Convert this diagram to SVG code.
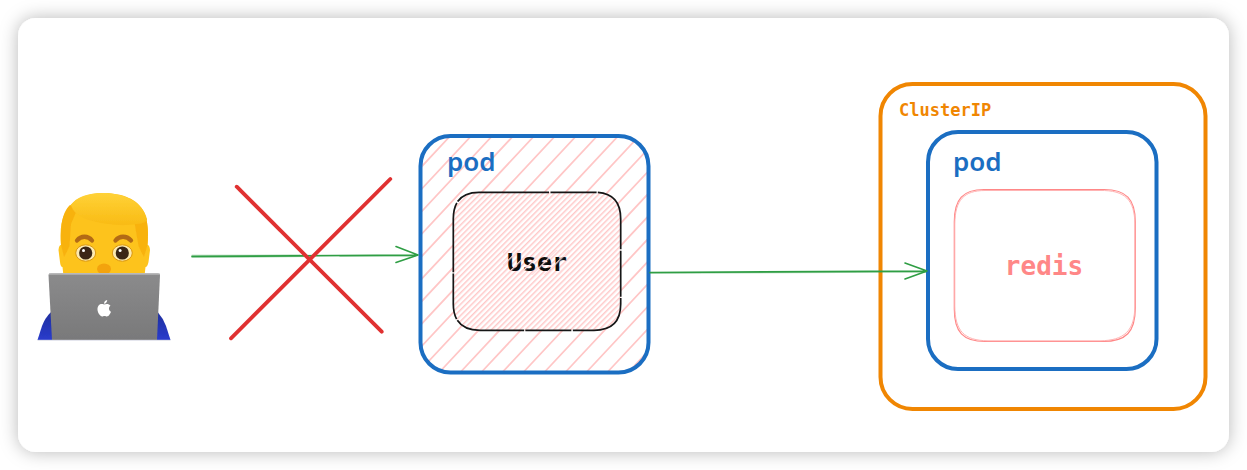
<svg xmlns="http://www.w3.org/2000/svg" width="1247" height="470" viewBox="0 0 1247 470">
<style>
.box{fill:none;stroke-linejoin:round}
.blue{stroke:#1b6ec2;stroke-width:4}
.orange{stroke:#f08602;stroke-width:4}
.mono{font-family:"DejaVu Sans Mono","Liberation Mono",monospace;font-weight:700}
.pod{font-family:"Noto Sans","Open Sans",sans-serif;font-weight:600;font-size:26px;fill:#1b6ec2}
.conn{fill:none;stroke:#2f9e44;stroke-linecap:round;stroke-linejoin:round;stroke-width:1.600}
.halo{fill:none;stroke:#2f9e44;stroke-opacity:.45;stroke-linecap:round;stroke-width:1.300}
.cross{fill:none;stroke:#e03131;stroke-width:3.800;stroke-linecap:round}
</style>
<defs>
<filter id="sh" x="-5%" y="-15%" width="110%" height="130%"><feDropShadow dx="0" dy="0" stdDeviation="9" flood-color="#000" flood-opacity="0.28"/></filter>
<filter id="soft" x="-5%" y="-5%" width="110%" height="110%"><feGaussianBlur stdDeviation="0.450"/></filter>
<clipPath id="podclip"><rect x="420.500" y="136" width="228" height="236.500" rx="30"/></clipPath>
<pattern id="dense" width="4" height="4" patternUnits="userSpaceOnUse" patternTransform="rotate(-45)"><rect width="4" height="1.500" fill="#ffc9c9"/></pattern>
<pattern id="chip" width="9" height="9" patternUnits="userSpaceOnUse" patternTransform="translate(505 250) rotate(-45)"><rect width="9" height="1.300" fill="#ffdcdc"/></pattern>
<linearGradient id="lap" x1="0" y1="0" x2="0" y2="1"><stop offset="0" stop-color="#8b8b8c"/><stop offset="1" stop-color="#79797a"/></linearGradient>
<linearGradient id="hair" x1="0" y1="0" x2="0" y2="1"><stop offset="0" stop-color="#ffd238"/><stop offset="1" stop-color="#f9bb14"/></linearGradient>
<linearGradient id="sleeve" x1="0" y1="0" x2="0" y2="1"><stop offset="0" stop-color="#1f2f9f"/><stop offset="1" stop-color="#2a3ccc"/></linearGradient>
</defs>
<rect id="canvas-bg" width="1247" height="470" fill="#fff"/>
<rect id="card" x="18" y="18" width="1211" height="434" rx="18" fill="#fff" filter="url(#sh)"/>

<g id="user-emoji">
<g filter="url(#soft)">
<path d="M37.500 340L42 326Q45 318 50.500 312.500L158 312.500Q163 318 166 326L170.500 340Z" fill="url(#sleeve)"/>
<path d="M58.500 250Q59 245 61 245C60 232 60.500 222 65 213C72 199 86 193 103 193C122 193 138 199 144 212C148 222 148.500 232 147.500 245Q149.500 245 150 250L148.500 262Q147.500 267 145.500 267L144.500 276H63.500L62.500 267Q60.500 267 60 262Z" fill="#fdc31c"/>
<path d="M70 205C63 212 60.500 222 61 245L64 257Q67 252 69.500 246L71 224L77 210Z" fill="#f8b211"/>
<path d="M134.500 223L138.500 246Q141 252 144 257L147.500 245C148.500 232 148 222 144.500 213L140 218Z" fill="#f8b211"/>
<path d="M71 205C76 197 88 193 103 193C124 193 143 202 147 219C147 222 142 223.500 136 224C128 225.500 118 225.500 108 224C92 222 75 218 71 205Z" fill="url(#hair)"/>
<path d="M77 240.500C81 235.500 88 235.500 92 240.500" fill="none" stroke="#b26a12" stroke-width="4.300" stroke-linecap="round"/>
<path d="M115.500 240.500C119.500 235.500 126.500 235.500 131 240.500" fill="none" stroke="#b26a12" stroke-width="4.300" stroke-linecap="round"/>
<ellipse cx="85.700" cy="253" rx="10" ry="8.200" fill="#fdeab0" stroke="#d9960f" stroke-width="1"/>
<ellipse cx="122.300" cy="253" rx="10" ry="8.200" fill="#fdeab0" stroke="#d9960f" stroke-width="1"/>
<circle cx="85.700" cy="253" r="6.600" fill="#3a2815"/>
<circle cx="122.300" cy="253" r="6.600" fill="#3a2815"/>
<circle cx="83.500" cy="250.500" r="1.500" fill="#fff"/>
<circle cx="120.100" cy="250.500" r="1.500" fill="#fff"/>
<ellipse cx="104" cy="269" rx="7" ry="5.500" fill="#f3a30f"/>
<path d="M48.500 275Q48.500 273 51 273H157.500Q160 273 160 275L157 340H52Z" fill="url(#lap)"/>
<path d="M49 273.800H159.500" stroke="#c9c9ca" stroke-width="1.300" fill="none"/>
<path d="M37.500 340.300H170.500" stroke="#dfe0ea" stroke-width="1" fill="none"/>
</g>
<path d="M104 304.500C102 303.700 100 303.900 98.800 305.300C96.800 307.700 97.300 311.300 99 314C100.300 316 101.700 317 103.200 316.300C104 316 105 316 105.800 316.300C107.300 317 108.600 315.800 109.700 314.200C110.300 313.300 110.800 312.300 111 311.700C108.600 310.700 108.300 307 110.500 305.700C109 303.500 106 303.600 104 304.500Z" fill="#fff"/>
<path d="M104 303.800C103.900 301.900 105.300 300.300 107.200 300C107.300 301.900 105.900 303.600 104 303.800Z" fill="#fff"/>
</g>

<g id="pod-user">
<path clip-path="url(#podclip)" fill="none" stroke="#ffc6c6" stroke-width="1.800" d="M208.600 372l220.600 -236M229.600 372l220.600 -236M250.600 372l220.600 -236M271.600 372l220.600 -236M292.600 372l220.600 -236M313.600 372l220.600 -236M334.600 372l220.600 -236M355.600 372l220.600 -236M376.600 372l220.600 -236M397.600 372l220.600 -236M418.600 372l220.600 -236M439.600 372l220.600 -236M460.600 372l220.600 -236M481.600 372l220.600 -236M502.600 372l220.600 -236M523.600 372l220.600 -236M544.600 372l220.600 -236M565.600 372l220.600 -236M586.600 372l220.600 -236M607.600 372l220.600 -236M628.600 372l220.600 -236"/>
<rect class="box blue" x="420.500" y="136" width="228" height="236.500" rx="30"/>
<text class="pod" x="447" y="171">pod</text>
</g>

<g id="user-service">
<path d="M479 192.300H594C612 192.300 620.700 201 620.700 219V304C620.700 321 612 330.300 594 330.300H480C462 330.300 453.300 321 453.300 304V219C453.300 201 462 192.300 479 192.300Z" fill="#fff"/>
<path d="M479 192.300H594C612 192.300 620.700 201 620.700 219V304C620.700 321 612 330.300 594 330.300H480C462 330.300 453.300 321 453.300 304V219C453.300 201 462 192.300 479 192.300Z" fill="url(#dense)"/>
<path class="box" d="M479 192.300H594C612 192.300 620.700 201 620.700 219V304C620.700 321 612 330.300 594 330.300H480C462 330.300 453.300 321 453.300 304V219C453.300 201 462 192.300 479 192.300Z" stroke="#161616" stroke-width="1.700" stroke-dasharray="70 1.500 46 1.200"/>
<text class="mono" x="537" y="271" font-size="25" fill="#0d0d0d" text-anchor="middle">User</text>
<rect x="503" y="250" width="68" height="25" fill="url(#chip)"/>
</g>

<g id="cluster-ip">
<rect class="box orange" x="880.500" y="84" width="325" height="325" rx="32"/>
<text class="mono" x="899" y="115.500" font-size="17" fill="#f08602">ClusterIP</text>
</g>

<g id="pod-redis">
<rect class="box blue" x="928" y="132" width="228.500" height="237" rx="30"/>
<text class="pod" x="953" y="171">pod</text>
</g>

<g id="redis">
<path class="box" d="M984 189.500H1104C1126 189.500 1135.300 199 1135.300 222V308C1135.300 332 1126 341.500 1103 341.500H985C963 341.500 954.300 332 954.300 309V222C954.300 199 963 189.500 984 189.500Z" stroke="#ff8787" stroke-width="1.200"/>
<path class="box" d="M985 190.500H1100C1125 190 1134.800 200 1134.800 224V306C1134.800 331 1124 340.500 1100 340.800H988C964 340.500 955 331 954.800 306V224C955 200 964 190.500 985 190.500Z" stroke="#ffb3b3" stroke-width="1"/>
<text class="mono" x="1044" y="275" font-size="26" fill="#ff8787" text-anchor="middle">redis</text>
</g>

<g id="connectors">
<path class="halo" d="M192 255.500L300 255.200M192 257.200L310 256.400M340 256.200L415 256"/>
<path class="conn" d="M192 256.500L418 255M396 246.500L418 255L396 262.500"/>
<path class="halo" d="M650 273L926 272"/>
<path class="conn" d="M650 272.500L926 271M905 263L927 271L905 279"/>
</g>

<g id="cross">
<path class="cross" d="M236.700 186.700L381.700 331.700"/>
<path class="cross" d="M390.300 179L231 338.300"/>
</g>
</svg>
